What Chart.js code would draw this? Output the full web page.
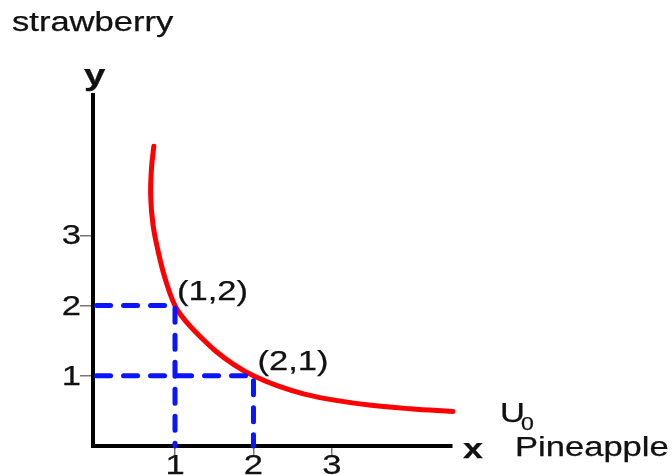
<!DOCTYPE html>
<html>
<head>
<meta charset="utf-8">
<script src="https://cdn.jsdelivr.net/npm/chart.js@4"></script>
<style>
  html, body { margin: 0; padding: 0; background: #ffffff; }
  #wrap { width: 672px; height: 475px; position: relative; }
</style>
</head>
<body>
<div id="wrap"><canvas id="c" width="672" height="475"></canvas></div>
<script>
// ---- data ----
const xTicks = [1, 2, 3];
const yTicks = [1, 2, 3];
// indifference curve U0 (pineapple x, strawberry y)
const curveX = [0.73, 0.70, 0.69, 0.72, 0.78, 0.87, 1.00, 1.15, 1.32, 1.52, 1.75, 2.00, 2.30, 2.65, 3.05, 3.50, 4.00, 4.54];
const curveY = [4.27, 3.95, 3.55, 3.15, 2.80, 2.40, 2.00, 1.76, 1.56, 1.35, 1.16, 1.00, 0.86, 0.74, 0.65, 0.58, 0.53, 0.49];
// dashed guide lines through the two bundles
const bundleA = [1, 2];
const bundleB = [2, 1];
const bundleLabels = ['(1,2)', '(2,1)'];
const curveLabel = 'U';
const curveSub = '0';
const xName = 'x';
const xTitle = 'Pineapple';
const yName = 'y';
const yTitle = 'strawberry';

const curvePts = curveX.map((x, i) => ({ x: x, y: curveY[i] }));
const guide = b => [{ x: 0, y: b[1] }, { x: b[0], y: b[1] }, { x: b[0], y: 0 }];

const FONT = '"Liberation Sans", Arial, sans-serif';
const SX = 1.28; // reference text is horizontally stretched

function txt(ctx, s, x, y, size, bold, align) {
  ctx.save();
  ctx.font = (bold ? 'bold ' : '') + size + 'px ' + FONT;
  ctx.fillStyle = '#111111';
  ctx.strokeStyle = '#111111';
  ctx.lineWidth = 0.25;
  ctx.textBaseline = 'alphabetic';
  ctx.translate(x, y);
  ctx.scale(SX, 1);
  ctx.textAlign = align || 'left';
  ctx.fillText(s, 0, 0);
  ctx.strokeText(s, 0, 0);
  ctx.restore();
}

const labelsPlugin = {
  id: 'labelsPlugin',
  afterDraw(chart) {
    const ctx = chart.ctx;
    const xs = chart.scales.x, ys = chart.scales.y;
    const ca = chart.chartArea;
    // tick labels
    yTicks.forEach(v => txt(ctx, String(v), ca.left - 12, ys.getPixelForValue(v) + 9, 27, false, 'right'));
    xTicks.forEach(v => txt(ctx, String(v), xs.getPixelForValue(v), ca.bottom + 28, 27, false, 'center'));
    // bundle labels
    [bundleA, bundleB].forEach((b, i) => {
      txt(ctx, bundleLabels[i], xs.getPixelForValue(b[0]) + 2 + i * 2, ys.getPixelForValue(b[1]) - 6, 27, false, 'left');
    });
    // curve label U0
    txt(ctx, curveLabel, ca.right + 48, ca.bottom - 24, 27, false, 'left');
    txt(ctx, curveSub, ca.right + 69, ca.bottom - 16, 18, false, 'left');
    // axis names
    txt(ctx, xName, ca.right + 11, ca.bottom + 12, 28, true, 'left');
    txt(ctx, xTitle, ca.right + 63, ca.bottom + 10, 27, false, 'left');
    txt(ctx, yName, ca.left - 9, ca.top - 10, 30, true, 'left');
    txt(ctx, yTitle, 12, 31, 27, false, 'left');
  }
};

new Chart(document.getElementById('c'), {
  type: 'scatter',
  data: {
    datasets: [
      {
        label: 'guideA',
        data: guide(bundleA),
        showLine: true,
        borderColor: '#0a14ff',
        borderWidth: 5,
        borderDash: [14, 13],
        borderCapStyle: 'round',
        pointRadius: 0,
        tension: 0,
        clip: 10
      },
      {
        label: 'guideB',
        data: guide(bundleB),
        showLine: true,
        borderColor: '#0a14ff',
        borderWidth: 5,
        borderDash: [14, 13],
        borderCapStyle: 'round',
        pointRadius: 0,
        tension: 0,
        clip: 10
      },
      {
        label: 'U0',
        data: curvePts,
        showLine: true,
        borderColor: '#ff0000',
        borderWidth: 5,
        borderCapStyle: 'round',
        pointRadius: 0,
        tension: 0.4,
        clip: 10
      }
    ]
  },
  options: {
    responsive: false,
    animation: false,
    events: [],
    layout: { padding: { left: 80, right: 220, top: 95, bottom: 20 } },
    plugins: { legend: { display: false }, tooltip: { enabled: false } },
    scales: {
      x: {
        type: 'linear',
        min: -0.045,
        max: 4.53,
        afterBuildTicks: s => { s.ticks = xTicks.map(v => ({ value: v })); },
        ticks: { display: false },
        grid: { display: true, drawOnChartArea: false, drawTicks: true, tickLength: 9, color: '#777', lineWidth: 1.5 },
        border: { display: true, color: '#000', width: 4 }
      },
      y: {
        type: 'linear',
        min: 0,
        max: 5,
        afterBuildTicks: s => { s.ticks = yTicks.map(v => ({ value: v })); },
        ticks: { display: false },
        grid: { display: true, drawOnChartArea: false, drawTicks: true, tickLength: 13, color: '#777', lineWidth: 1.5 },
        border: { display: true, color: '#000', width: 4 }
      }
    }
  },
  plugins: [labelsPlugin]
});
</script>
</body>
</html>
